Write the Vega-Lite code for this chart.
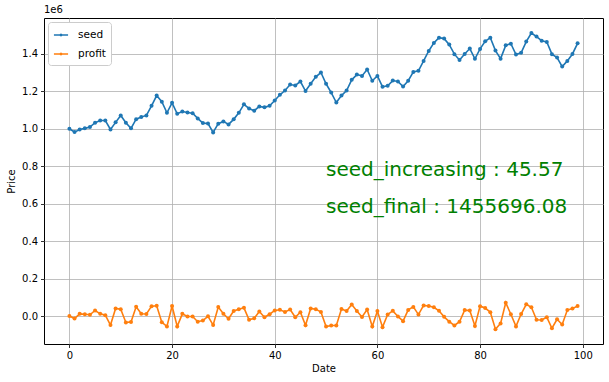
{
  "$schema": "https://vega.github.io/schema/vega-lite/v6.json",
  "width": 559,
  "height": 326,
  "autosize": {"type": "none"},
  "padding": {"left": 44, "top": 18, "right": 6, "bottom": 38},
  "title": {"text": "1e6", "anchor": "start", "frame": "group", "fontSize": 10, "fontWeight": "normal", "font": "DejaVu Sans", "offset": 3, "color": "#000000"},
  "config": {
    "font": "DejaVu Sans",
    "view": {"stroke": "#000000", "strokeWidth": 1},
    "axis": {
      "domain": false,
      "grid": true,
      "gridColor": "#b0b0b0",
      "gridWidth": 0.8,
      "tickColor": "#000000",
      "tickSize": 3.5,
      "tickWidth": 0.8,
      "labelFontSize": 10,
      "labelColor": "#000000",
      "labelPadding": 3,
      "titleFontSize": 10,
      "titleFontWeight": "normal",
      "titleColor": "#000000"
    }
  },
  "layer": [
    {
      "data": {"name": "prices", "values": [
{"Date":0,"series":"seed","Price":1000000},{"Date":1,"series":"seed","Price":982000},{"Date":2,"series":"seed","Price":996000},{"Date":3,"series":"seed","Price":1002000},{"Date":4,"series":"seed","Price":1009000},{"Date":5,"series":"seed","Price":1032000},{"Date":6,"series":"seed","Price":1044000},{"Date":7,"series":"seed","Price":1044000},{"Date":8,"series":"seed","Price":996000},{"Date":9,"series":"seed","Price":1034000},
{"Date":10,"series":"seed","Price":1071000},{"Date":11,"series":"seed","Price":1032000},{"Date":12,"series":"seed","Price":1002000},{"Date":13,"series":"seed","Price":1051000},{"Date":14,"series":"seed","Price":1062000},{"Date":15,"series":"seed","Price":1071000},{"Date":16,"series":"seed","Price":1122000},{"Date":17,"series":"seed","Price":1177000},{"Date":18,"series":"seed","Price":1144000},{"Date":19,"series":"seed","Price":1085000},
{"Date":20,"series":"seed","Price":1138000},{"Date":21,"series":"seed","Price":1080000},{"Date":22,"series":"seed","Price":1092000},{"Date":23,"series":"seed","Price":1087000},{"Date":24,"series":"seed","Price":1083000},{"Date":25,"series":"seed","Price":1055000},{"Date":26,"series":"seed","Price":1030000},{"Date":27,"series":"seed","Price":1028000},{"Date":28,"series":"seed","Price":980000},{"Date":29,"series":"seed","Price":1027000},
{"Date":30,"series":"seed","Price":1039000},{"Date":31,"series":"seed","Price":1023000},{"Date":32,"series":"seed","Price":1050000},{"Date":33,"series":"seed","Price":1085000},{"Date":34,"series":"seed","Price":1130000},{"Date":35,"series":"seed","Price":1108000},{"Date":36,"series":"seed","Price":1096000},{"Date":37,"series":"seed","Price":1119000},{"Date":38,"series":"seed","Price":1114000},{"Date":39,"series":"seed","Price":1122000},
{"Date":40,"series":"seed","Price":1151000},{"Date":41,"series":"seed","Price":1181000},{"Date":42,"series":"seed","Price":1204000},{"Date":43,"series":"seed","Price":1236000},{"Date":44,"series":"seed","Price":1231000},{"Date":45,"series":"seed","Price":1252000},{"Date":46,"series":"seed","Price":1201000},{"Date":47,"series":"seed","Price":1240000},{"Date":48,"series":"seed","Price":1277000},{"Date":49,"series":"seed","Price":1300000},
{"Date":50,"series":"seed","Price":1240000},{"Date":51,"series":"seed","Price":1193000},{"Date":52,"series":"seed","Price":1140000},{"Date":53,"series":"seed","Price":1177000},{"Date":54,"series":"seed","Price":1204000},{"Date":55,"series":"seed","Price":1261000},{"Date":56,"series":"seed","Price":1289000},{"Date":57,"series":"seed","Price":1282000},{"Date":58,"series":"seed","Price":1316000},{"Date":59,"series":"seed","Price":1256000},
{"Date":60,"series":"seed","Price":1282000},{"Date":61,"series":"seed","Price":1224000},{"Date":62,"series":"seed","Price":1229000},{"Date":63,"series":"seed","Price":1257000},{"Date":64,"series":"seed","Price":1252000},{"Date":65,"series":"seed","Price":1225000},{"Date":66,"series":"seed","Price":1256000},{"Date":67,"series":"seed","Price":1303000},{"Date":68,"series":"seed","Price":1309000},{"Date":69,"series":"seed","Price":1362000},
{"Date":70,"series":"seed","Price":1415000},{"Date":71,"series":"seed","Price":1458000},{"Date":72,"series":"seed","Price":1486000},{"Date":73,"series":"seed","Price":1481000},{"Date":74,"series":"seed","Price":1449000},{"Date":75,"series":"seed","Price":1398000},{"Date":76,"series":"seed","Price":1367000},{"Date":77,"series":"seed","Price":1399000},{"Date":78,"series":"seed","Price":1428000},{"Date":79,"series":"seed","Price":1373000},
{"Date":80,"series":"seed","Price":1426000},{"Date":81,"series":"seed","Price":1467000},{"Date":82,"series":"seed","Price":1486000},{"Date":83,"series":"seed","Price":1417000},{"Date":84,"series":"seed","Price":1374000},{"Date":85,"series":"seed","Price":1445000},{"Date":86,"series":"seed","Price":1454000},{"Date":87,"series":"seed","Price":1396000},{"Date":88,"series":"seed","Price":1405000},{"Date":89,"series":"seed","Price":1465000},
{"Date":90,"series":"seed","Price":1511000},{"Date":91,"series":"seed","Price":1492000},{"Date":92,"series":"seed","Price":1470000},{"Date":93,"series":"seed","Price":1463000},{"Date":94,"series":"seed","Price":1398000},{"Date":95,"series":"seed","Price":1380000},{"Date":96,"series":"seed","Price":1332000},{"Date":97,"series":"seed","Price":1362000},{"Date":98,"series":"seed","Price":1399000},{"Date":99,"series":"seed","Price":1455696},
{"Date":0,"series":"profit","Price":0},{"Date":1,"series":"profit","Price":-13000},{"Date":2,"series":"profit","Price":12000},{"Date":3,"series":"profit","Price":10000},{"Date":4,"series":"profit","Price":7000},{"Date":5,"series":"profit","Price":30000},{"Date":6,"series":"profit","Price":12000},{"Date":7,"series":"profit","Price":5000},{"Date":8,"series":"profit","Price":-48000},{"Date":9,"series":"profit","Price":41000},
{"Date":10,"series":"profit","Price":37000},{"Date":11,"series":"profit","Price":-34000},{"Date":12,"series":"profit","Price":-31000},{"Date":13,"series":"profit","Price":50000},{"Date":14,"series":"profit","Price":12000},{"Date":15,"series":"profit","Price":11000},{"Date":16,"series":"profit","Price":53000},{"Date":17,"series":"profit","Price":55000},{"Date":18,"series":"profit","Price":-33000},{"Date":19,"series":"profit","Price":-55000},
{"Date":20,"series":"profit","Price":54000},{"Date":21,"series":"profit","Price":-55000},{"Date":22,"series":"profit","Price":12000},{"Date":23,"series":"profit","Price":-2000},{"Date":24,"series":"profit","Price":-2000},{"Date":25,"series":"profit","Price":-30000},{"Date":26,"series":"profit","Price":-24000},{"Date":27,"series":"profit","Price":-1000},{"Date":28,"series":"profit","Price":-48000},{"Date":29,"series":"profit","Price":48000},
{"Date":30,"series":"profit","Price":12000},{"Date":31,"series":"profit","Price":-14000},{"Date":32,"series":"profit","Price":27000},{"Date":33,"series":"profit","Price":36000},{"Date":34,"series":"profit","Price":44000},{"Date":35,"series":"profit","Price":-20000},{"Date":36,"series":"profit","Price":-12000},{"Date":37,"series":"profit","Price":25000},{"Date":38,"series":"profit","Price":-6000},{"Date":39,"series":"profit","Price":10000},
{"Date":40,"series":"profit","Price":30000},{"Date":41,"series":"profit","Price":34000},{"Date":42,"series":"profit","Price":22000},{"Date":43,"series":"profit","Price":35000},{"Date":44,"series":"profit","Price":-6000},{"Date":45,"series":"profit","Price":21000},{"Date":46,"series":"profit","Price":-49000},{"Date":47,"series":"profit","Price":41000},{"Date":48,"series":"profit","Price":37000},{"Date":49,"series":"profit","Price":22000},
{"Date":50,"series":"profit","Price":-56000},{"Date":51,"series":"profit","Price":-50000},{"Date":52,"series":"profit","Price":-50000},{"Date":53,"series":"profit","Price":38000},{"Date":54,"series":"profit","Price":27000},{"Date":55,"series":"profit","Price":62000},{"Date":56,"series":"profit","Price":27000},{"Date":57,"series":"profit","Price":-5000},{"Date":58,"series":"profit","Price":35000},{"Date":59,"series":"profit","Price":-56000},
{"Date":60,"series":"profit","Price":27000},{"Date":61,"series":"profit","Price":-59000},{"Date":62,"series":"profit","Price":9000},{"Date":63,"series":"profit","Price":28000},{"Date":64,"series":"profit","Price":-2000},{"Date":65,"series":"profit","Price":-27000},{"Date":66,"series":"profit","Price":33000},{"Date":67,"series":"profit","Price":49000},{"Date":68,"series":"profit","Price":8000},{"Date":69,"series":"profit","Price":57000},
{"Date":70,"series":"profit","Price":54000},{"Date":71,"series":"profit","Price":47000},{"Date":72,"series":"profit","Price":28000},{"Date":73,"series":"profit","Price":-4000},{"Date":74,"series":"profit","Price":-30000},{"Date":75,"series":"profit","Price":-50000},{"Date":76,"series":"profit","Price":-30000},{"Date":77,"series":"profit","Price":32000},{"Date":78,"series":"profit","Price":30000},{"Date":79,"series":"profit","Price":-53000},
{"Date":80,"series":"profit","Price":53000},{"Date":81,"series":"profit","Price":43000},{"Date":82,"series":"profit","Price":21000},{"Date":83,"series":"profit","Price":-70000},{"Date":84,"series":"profit","Price":-39000},{"Date":85,"series":"profit","Price":71000},{"Date":86,"series":"profit","Price":10000},{"Date":87,"series":"profit","Price":-55000},{"Date":88,"series":"profit","Price":11000},{"Date":89,"series":"profit","Price":63000},
{"Date":90,"series":"profit","Price":47000},{"Date":91,"series":"profit","Price":-20000},{"Date":92,"series":"profit","Price":-21000},{"Date":93,"series":"profit","Price":-6000},{"Date":94,"series":"profit","Price":-65000},{"Date":95,"series":"profit","Price":-17000},{"Date":96,"series":"profit","Price":-45000},{"Date":97,"series":"profit","Price":32000},{"Date":98,"series":"profit","Price":40000},{"Date":99,"series":"profit","Price":54000}
      ]},
      "mark": {"type": "line", "strokeWidth": 1.6, "point": {"filled": true, "size": 16}},
      "encoding": {
        "x": {"field": "Date", "type": "quantitative", "scale": {"domain": [-4.95, 103.95], "nice": false, "zero": false},
              "axis": {"values": [0, 20, 40, 60, 80, 100], "title": "Date", "titlePadding": 3, "labelFlush": false}},
        "y": {"field": "Price", "type": "quantitative", "scale": {"domain": [-149000, 1591000], "nice": false, "zero": false},
              "axis": {"values": [0, 200000, 400000, 600000, 800000, 1000000, 1200000, 1400000], "labelExpr": "format(datum.value / 1000000, '.1f')", "title": "Price", "titlePadding": 5}},
        "color": {"field": "series", "type": "nominal",
                  "scale": {"domain": ["seed", "profit"], "range": ["#1f77b4", "#ff7f0e"]},
                  "legend": {"title": null, "orient": "top-left", "offset": 4, "fillColor": "#ffffff", "strokeColor": "#cccccc", "cornerRadius": 3, "padding": 5,
                             "labelFontSize": 10.5, "labelColor": "#000000", "rowPadding": 5, "symbolStrokeWidth": 1.6, "symbolSize": 200,
                             "symbolType": "M-1,0L1,0M-0.1,0A0.1,0.1,0,1,1,0.1,0A0.1,0.1,0,1,1,-0.1,0", "labelOffset": 9}},
        "order": {"field": "Date"}
      }
    },
    {
      "data": {"values": [
        {"x": 50, "y": 750000, "label": "seed_increasing : 45.57"},
        {"x": 50, "y": 550000, "label": "seed_final : 1455696.08"}
      ]},
      "mark": {"type": "text", "align": "left", "baseline": "alphabetic", "fontSize": 20, "color": "#008000", "font": "DejaVu Sans"},
      "encoding": {
        "x": {"field": "x", "type": "quantitative"},
        "y": {"field": "y", "type": "quantitative"},
        "text": {"field": "label"}
      }
    }
  ]
}
